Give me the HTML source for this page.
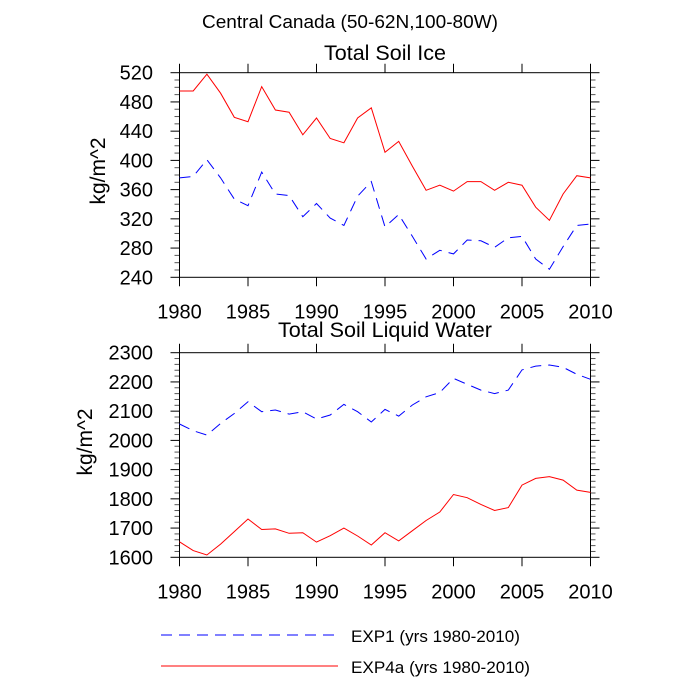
<!DOCTYPE html>
<html><head><meta charset="utf-8"><style>
html,body{margin:0;padding:0;background:#fff}
svg{display:block;font-family:"Liberation Sans",Arial,sans-serif}
</style></head><body>
<svg id="chart" width="700" height="700" viewBox="0 0 700 700">
<rect width="700" height="700" fill="#fff"/>
<text x="202" y="28" font-size="18" textLength="296" lengthAdjust="spacingAndGlyphs">Central Canada (50-62N,100-80W)</text>
<text x="324" y="60" font-size="21.5" textLength="122" lengthAdjust="spacingAndGlyphs">Total Soil Ice</text>
<text x="278" y="337" font-size="21.5" textLength="214" lengthAdjust="spacingAndGlyphs">Total Soil Liquid Water</text>
<text transform="translate(105,171) rotate(-90)" font-size="21" text-anchor="middle">kg/m^2</text>
<text transform="translate(92,442) rotate(-90)" font-size="21" text-anchor="middle">kg/m^2</text>
<g id="p1"></g>
<g id="p2"></g>
<g>
<line x1="161" y1="635" x2="338" y2="635" stroke="#00f" stroke-width="1" stroke-dasharray="11 7"/>
<text x="351" y="642" font-size="17" textLength="169" lengthAdjust="spacingAndGlyphs">EXP1 (yrs 1980-2010)</text>
<line x1="161" y1="666" x2="338" y2="666" stroke="#f00" stroke-width="1"/>
<text x="351" y="673" font-size="17" textLength="179" lengthAdjust="spacingAndGlyphs">EXP4a (yrs 1980-2010)</text>
</g>
</svg>
<script>
const years = [1980,1981,1982,1983,1984,1985,1986,1987,1988,1989,1990,1991,1992,1993,1994,1995,1996,1997,1998,1999,2000,2001,2002,2003,2004,2005,2006,2007,2008,2009,2010];
const iceExp1 = [376,378,401,376,347,338,384,354,352,323,341,321,311,351,371,309,326,296,265,277,272,291,290,281,294,296,265,251,282,311,313];
const iceExp4a = [495,495,518,492,459,453,501,469,466,435,458,430,424,458,472,411,426,392,359,366,358,371,371,359,370,366,336,318,354,379,376];
const waterExp1 = [2056,2033,2018,2058,2092,2132,2098,2104,2090,2098,2073,2087,2123,2098,2063,2106,2083,2121,2149,2164,2212,2192,2172,2160,2172,2241,2254,2258,2250,2226,2209];
const waterExp4a = [1653,1623,1608,1645,1688,1731,1695,1697,1682,1684,1652,1674,1700,1673,1642,1684,1656,1691,1726,1755,1815,1804,1781,1760,1770,1847,1870,1876,1864,1830,1822];
const xTicks = [1980,1985,1990,1995,2000,2005,2010];
const iceYTicks = [240,280,320,360,400,440,480,520];
const waterYTicks = [1600,1700,1800,1900,2000,2100,2200,2300];

const NS='http://www.w3.org/2000/svg';
function mk(tag, attrs, parent){const e=document.createElementNS(NS,tag);for(const k in attrs)e.setAttribute(k,attrs[k]);parent.appendChild(e);return e;}

function panel(g, top, bottom, ymin, ymax, yticks, minorStep, s1, s2, prefix){
  const L=179.5,R=590.5;
  const xs=v=>L+(v-1980)/30*(R-L);
  const ys=v=>bottom-(v-ymin)/(ymax-ymin)*(bottom-top);
  for(let v=ymin; v<=ymax+1e-6; v+=minorStep){
    if(yticks.includes(v)) continue;
    const y=ys(v);
    const a=mk('line',{x1:L-5,y1:y,x2:L,y2:y,stroke:'#555','stroke-width':1},g);
    
    
    const b=mk('line',{x1:R,y1:y,x2:R+5,y2:y,stroke:'#555','stroke-width':1},g);
    
    
  }
  yticks.forEach(v=>{
    const y=ys(v);
    const a=mk('line',{x1:L-9,y1:y,x2:L,y2:y,stroke:'#000','stroke-width':1},g);
    
    
    const b=mk('line',{x1:R,y1:y,x2:R+9,y2:y,stroke:'#000','stroke-width':1},g);
    
    
    const t=mk('text',{x:153,y:y+7,'font-size':20,'text-anchor':'end'},g);
    t.textContent=v;
    
    
  });
  xTicks.forEach(v=>{
    const x=xs(v);
    const a=mk('line',{x1:x,y1:top-9,x2:x,y2:top,stroke:'#000','stroke-width':1},g);
    
    
    const b=mk('line',{x1:x,y1:bottom,x2:x,y2:bottom+9,stroke:'#000','stroke-width':1},g);
    
    
    const t=mk('text',{x:x,y:bottom+41,'font-size':20,'text-anchor':'middle'},g);
    t.textContent=v;
    
    
  });
  const f=mk('rect',{x:L,y:top,width:R-L,height:bottom-top,fill:'none',stroke:'#000','stroke-width':1},g);
  
  
  const pts=arr=>arr.map((v,i)=>xs(years[i]).toFixed(1)+','+ys(v).toFixed(1)).join(' ');
  const l1=mk('polyline',{points:pts(s1),fill:'none',stroke:'#00f','stroke-width':1,'stroke-dasharray':'11 7'},g);
  
  
  const l2=mk('polyline',{points:pts(s2),fill:'none',stroke:'#f00','stroke-width':1},g);
  
  
}
panel(document.getElementById('p1'),72.7,277.3,240,520,iceYTicks,10,iceExp1,iceExp4a,'ice');
panel(document.getElementById('p2'),352.7,557.3,1600,2300,waterYTicks,20,waterExp1,waterExp4a,'water');
</script>
</body></html>
